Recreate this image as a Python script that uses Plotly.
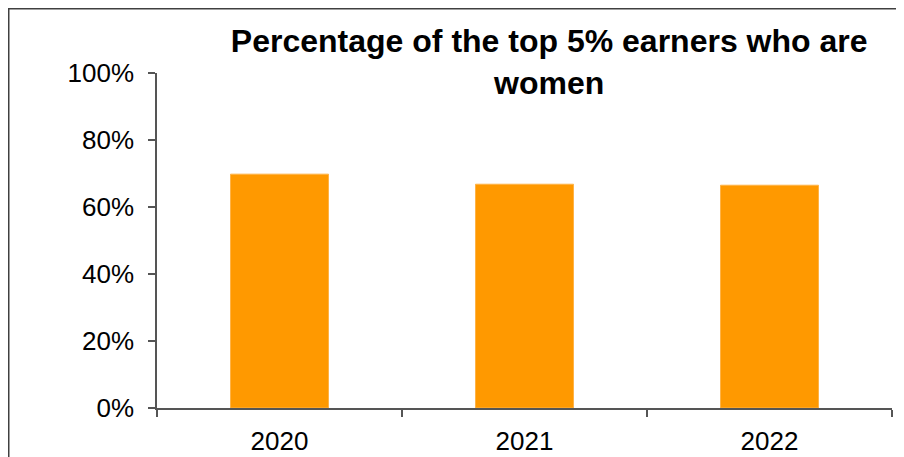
import plotly.graph_objects as go

years = ["2020", "2021", "2022"]
share_women = [0.698, 0.668, 0.665]
y_ticks = [0, 0.2, 0.4, 0.6, 0.8, 1.0]
y_tick_labels = ["0%", "20%", "40%", "60%", "80%", "100%"]

fig = go.Figure(go.Bar(
    x=years, y=share_women, width=0.4,
    marker=dict(color="#FF9900", line=dict(color="#FFB347", width=1)),
    hoverinfo="skip",
))

axis_col = "#555555"
fig.update_layout(
    width=896, height=449,
    margin=dict(l=149, r=12, t=65, b=49, autoexpand=False),
    paper_bgcolor="white", plot_bgcolor="white",
    font=dict(family="Liberation Sans, Arial, sans-serif", color="black"),
    showlegend=False,
    title=dict(
        text="<b>Percentage of the top 5% earners who are<br>women</b>",
        font=dict(size=32, family="Liberation Sans, Arial, sans-serif", color="black"),
        x=0.604, xref="container", xanchor="center",
        y=0.902, yref="container", yanchor="top",
    ),
    xaxis=dict(
        type="category", showline=True, linecolor=axis_col, linewidth=1.5,
        ticks="outside", tickson="boundaries", ticklen=7, tickcolor=axis_col, tickwidth=1.5,
        tickfont=dict(size=26), showgrid=False, zeroline=False, automargin=False,
        ticklabelstandoff=9,
    ),
    yaxis=dict(
        range=[0, 1.0], tickvals=y_ticks, ticktext=y_tick_labels,
        showline=True, linecolor=axis_col, linewidth=1.5,
        ticks="outside", ticklen=7, tickcolor=axis_col, tickwidth=1.5,
        tickfont=dict(size=26), showgrid=False, zeroline=False, automargin=False,
        ticklabelstandoff=9,
    ),
    shapes=[dict(
        type="rect", xref="paper", yref="paper",
        x0=-0.2017, x1=2, y0=-2, y1=1.1918,
        line=dict(color="#404040", width=1.5), fillcolor="rgba(0,0,0,0)", layer="below",
    )],
)

fig.write_html("out.html")
